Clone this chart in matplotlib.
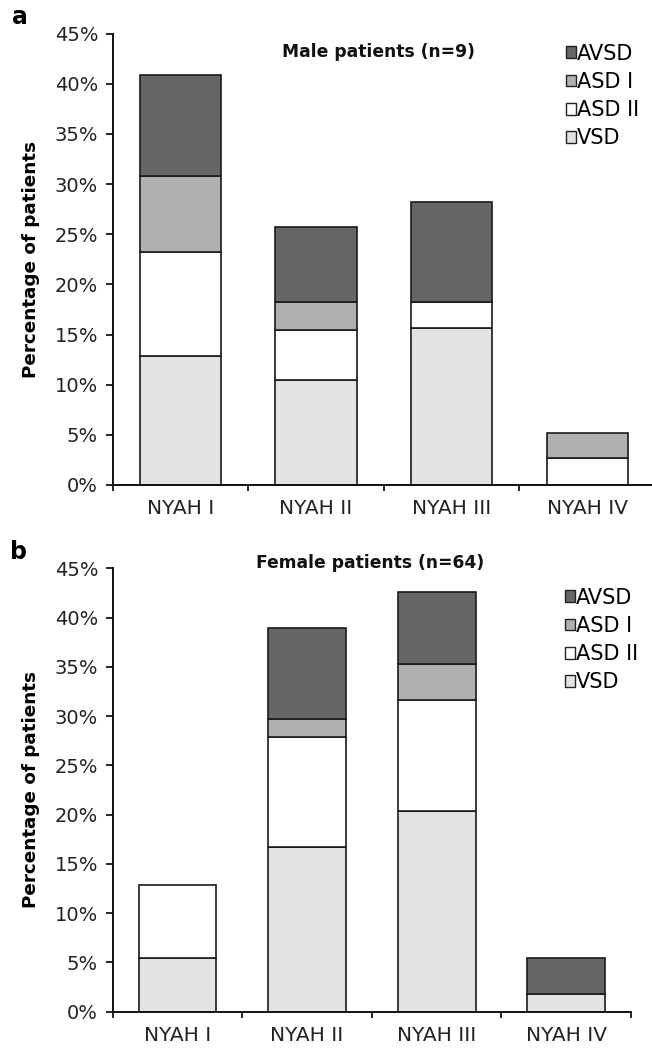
import matplotlib
matplotlib.use("Agg")
import numpy as np
import matplotlib.pyplot as plt
from matplotlib.patches import Patch
from matplotlib.ticker import FixedLocator

plt.rcParams['font.family'] = ['DejaVu Sans']

categories = ["NYAH I", "NYAH II", "NYAH III", "NYAH IV"]
series = ["VSD", "ASD II", "ASD I", "AVSD"]
colors = {"VSD": "#e3e3e3", "ASD II": "#ffffff", "ASD I": "#b0b0b0", "AVSD": "#666666"}

# percentages (stack order bottom -> top)
male_vsd = [12.9, 10.5, 15.6, 0.0]
male_asd2 = [10.3, 4.9, 2.6, 2.7]
male_asd1 = [7.6, 2.8, 0.0, 2.5]
male_avsd = [10.1, 7.5, 10.0, 0.0]

female_vsd = [5.5, 16.7, 20.4, 1.8]
female_asd2 = [7.4, 11.2, 11.2, 0.0]
female_asd1 = [0.0, 1.8, 3.7, 0.0]
female_avsd = [0.0, 9.2, 7.3, 3.7]

yticks = [0, 5, 10, 15, 20, 25, 30, 35, 40, 45]
ytick_labels = ["0%", "5%", "10%", "15%", "20%", "25%", "30%", "35%", "40%", "45%"]

W, H = 652, 1051
fig = plt.figure(figsize=(W / 100, H / 100), dpi=100)


def fx(px):
    return px / W


def fy(py):
    return 1 - py / H


def draw_panel(rect, data, title, title_xy, letter_xy, legend_xy):
    ax = fig.add_axes(rect)
    x = np.arange(len(categories))
    bottom = np.zeros(len(categories))
    for name, vals in zip(series, data):
        vals = np.array(vals)
        keep = vals > 0
        ax.bar(x[keep], vals[keep], 0.6, bottom=bottom[keep], color=colors[name],
               edgecolor="#1a1a1a", linewidth=1.2, zorder=2)
        bottom = bottom + vals

    ax.set_xlim(-0.5, len(categories) - 0.5)
    ax.set_ylim(0, 45)
    ax.set_yticks(yticks)
    ax.set_yticklabels(ytick_labels, fontsize=14, color="#222222")
    ax.set_xticks(x)
    ax.set_xticklabels(categories, fontsize=14.5, color="#222222")
    ax.xaxis.set_minor_locator(FixedLocator(np.arange(-0.5, len(categories), 1.0)))
    ax.tick_params(axis="x", which="major", length=0, pad=10)
    ax.tick_params(axis="x", which="minor", length=4, width=1.2, direction="out")
    ax.tick_params(axis="y", length=5, width=1.2, pad=5.5, direction="out")
    for s in ["top", "right"]:
        ax.spines[s].set_visible(False)
    for s in ["left", "bottom"]:
        ax.spines[s].set_linewidth(1.4)
        ax.spines[s].set_color("#111111")
    ax.set_ylabel("Percentage of patients", fontsize=13.2, fontweight="bold")
    ax_w = rect[2] * W
    ax.yaxis.set_label_coords((40 - 112.7) / ax_w, 0.5)

    fig.text(fx(title_xy[0]), fy(title_xy[1]), title, fontsize=12.3, fontweight="bold",
             ha="center", va="center", color="#111111")
    fig.text(fx(letter_xy[0]), fy(letter_xy[1]), letter_xy[2], fontsize=17,
             fontweight="bold", ha="left", va="center")

    handles = [Patch(facecolor=colors[n], edgecolor="#222222", linewidth=1.0)
               for n in series[::-1]]
    ax.legend(handles, series[::-1], loc="center left",
              bbox_to_anchor=(fx(legend_xy[0]), fy(legend_xy[1])),
              bbox_transform=fig.transFigure, frameon=False, fontsize=15,
              handlelength=0.48, handleheight=0.48, handletextpad=0.06,
              labelspacing=0.4, borderpad=0, borderaxespad=0)
    return ax


male = [male_vsd, male_asd2, male_asd1, male_avsd]
female = [female_vsd, female_asd2, female_asd1, female_avsd]

draw_panel([fx(112.7), fy(485), (655 - 112.7) / W, (485 - 33.5) / H], male,
           "Male patients (n=9)", (379, 52), (12, 17, "a"), (566, 96))
draw_panel([fx(112.7), fy(1011.7), (631 - 112.7) / W, (1011.7 - 568.3) / H], female,
           "Female patients (n=64)", (370, 563), (10, 552, "b"), (565, 640))

fig.savefig("out.png", dpi=100)
